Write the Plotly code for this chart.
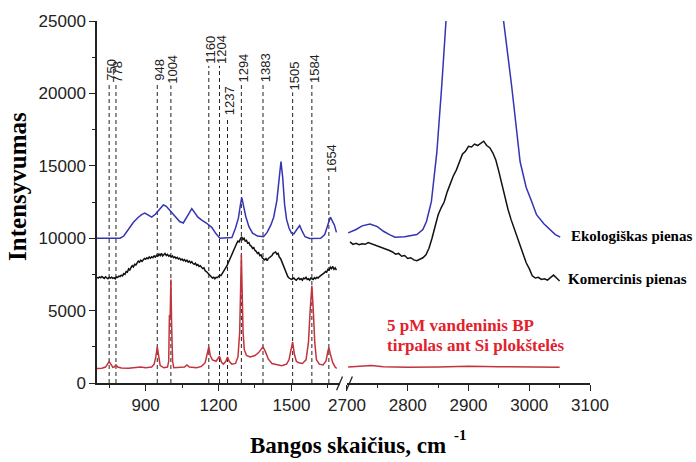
import plotly.graph_objects as go

# ---------------- data ----------------
# Ekologiškas pienas (blue), low-wavenumber part
eco_x_left = [700, 720, 760, 795, 810, 830, 850, 870, 885, 897, 910, 925, 940, 955, 973, 985, 1000, 1021,
              1040, 1055, 1065, 1078, 1090, 1100, 1115, 1131, 1150, 1172, 1190, 1206, 1230, 1255, 1270, 1282,
              1290, 1296, 1302, 1312, 1325, 1340, 1360, 1385, 1400, 1415, 1427, 1440, 1450, 1457, 1464, 1472,
              1480, 1490, 1500, 1510, 1522, 1534, 1545, 1556, 1575, 1600, 1620, 1637, 1650, 1660, 1668, 1677, 1685]
eco_y_left = [10000, 10000, 9980, 10000, 10150, 10600, 11100, 11450, 11650, 11730, 11600, 11450, 11650, 11950,
              12300, 12200, 11900, 11500, 11150, 11050, 11300, 11700, 12050, 11800, 11450, 11250, 11050, 10750,
              10300, 10000, 10000, 10050, 10700, 11400, 12300, 12800, 12300, 11500, 10800, 10350, 10150, 10100,
              10400, 10900, 11450, 12600, 14200, 15300, 14200, 12300, 11300, 10700, 10350, 10300, 10600, 10870,
              10450, 10100, 9980, 9980, 10000, 10250, 10900, 11450, 11200, 10900, 10400]

# Ekologiškas pienas, C-H stretching region
eco_x_right = [2702, 2715, 2725, 2738, 2750, 2760, 2770, 2779, 2795, 2815, 2825, 2831, 2839, 2848, 2856, 2863,
               2880, 2910, 2940, 2958, 2971, 2985, 2995, 3004, 3012, 3024, 3034, 3043, 3051]
eco_y_right = [10370, 10600, 10850, 10980, 10800, 10480, 10250, 10070, 10100, 10250, 10600, 11170, 12540, 15960,
               20530, 25000, 31000, 35000, 31000, 25000, 20530, 15280, 13500, 12540, 11620, 11000, 10590, 10250, 10070]

# Komercinis pienas (black)
kom_x_left = list(range(700, 1690, 5))
kom_y_left = [7300, 7250, 7320, 7260, 7350, 7280, 7220, 7330, 7270, 7200, 7300, 7240, 7310, 7230, 7280, 7200,
              7320, 7290, 7380, 7350, 7450, 7400, 7560, 7500, 7700, 7650, 7880, 7800, 7980, 8100, 8020, 8200,
              8150, 8300, 8420, 8350, 8480, 8400, 8520, 8600, 8550, 8650, 8580, 8700, 8620, 8720, 8650, 8780,
              8700, 8820, 8760, 8900, 8800, 8950, 8780, 8870, 8950, 8800, 8880, 8760, 8820, 8700, 8780, 8650,
              8720, 8600, 8680, 8560, 8620, 8500, 8560, 8450, 8520, 8400, 8480, 8350, 8420, 8300, 8380, 8250,
              8200, 8280, 8120, 8180, 8050, 8100, 7950, 7900, 7950, 7750, 7700, 7600, 7560, 7400, 7350, 7250,
              7300, 7200, 7300, 7280, 7350, 7450, 7420, 7550, 7650, 7800, 7900, 8100, 8300, 8500, 8700, 8900,
              9150, 9350, 9550, 9650, 9800, 9750, 9950, 10100, 9900, 10000, 9800, 9850, 9650, 9700, 9500, 9450,
              9300, 9350, 9150, 9100, 8950, 9000, 8800, 8850, 8650, 8550, 8500, 8600, 8450, 8600, 8650, 8750,
              8800, 8950, 9000, 9050, 8900, 8950, 8700, 8600, 8400, 8200, 7900, 7700, 7500, 7350, 7250, 7200,
              7150, 7200, 7250, 7150, 7100, 7200, 7250, 7150, 7200, 7100, 7250, 7200, 7300, 7150, 7200, 7100,
              7250, 7200, 7150, 7280, 7200, 7300, 7250, 7350, 7400, 7450, 7550, 7600, 7700, 7650, 7850, 7800,
              8000, 7900, 8050, 7850, 7950, 7800]
kom_x_right = list(range(2705, 3055, 5))
kom_y_right = [9750, 9570, 9650, 9550, 9620, 9580, 9700, 9620, 9550, 9500, 9420, 9350, 9250, 9150, 9050, 8900,
               8950, 8750, 8800, 8600, 8650, 8500, 8450, 8550, 8650, 8850, 9300, 10000, 10800, 11600, 12100,
               12500, 13200, 13800, 14300, 14700, 15300, 15800, 16000, 16350, 16300, 16500, 16400, 16550, 16700,
               16400, 16250, 15900, 15400, 14600, 13700, 12900, 12000, 11300, 10700, 10100, 9400, 8800, 8300,
               7900, 7400, 7250, 7300, 7150, 7200, 7100, 7250, 7450, 7250, 7050]

# 5 pM BP solution on Si (red)
bp_x_left = [700, 720, 735, 743, 750, 757, 765, 772, 778, 785, 800, 830, 860, 880, 900, 925, 935, 942, 948, 953,
             960, 975, 990, 995, 998, 1001, 1004, 1007, 1011, 1016, 1040, 1060, 1070, 1080, 1110, 1130, 1145,
             1153, 1160, 1166, 1175, 1190, 1198, 1204, 1212, 1220, 1230, 1237, 1244, 1255, 1270, 1280, 1287,
             1291, 1294, 1297, 1301, 1306, 1315, 1330, 1350, 1365, 1375, 1383, 1392, 1405, 1420, 1440, 1460,
             1480, 1490, 1497, 1505, 1512, 1520, 1530, 1545, 1560, 1570, 1577, 1584, 1590, 1596, 1603, 1615,
             1630, 1642, 1650, 1654, 1660, 1670, 1680, 1686]
bp_y_left = [1000, 1020, 1100, 1300, 1480, 1300, 1080, 1120, 1250, 1100, 1030, 1020, 1050, 1100, 1050, 1100,
             1300, 1800, 2500, 1800, 1200, 1050, 1100, 1500, 4700, 4500, 7150, 4000, 1500, 1050, 1050, 1100,
             1250, 1100, 1050, 1150, 1400, 1900, 2500, 1900, 1600, 1500, 1700, 1850, 1450, 1300, 1500, 1800,
             1500, 1300, 1350, 1800, 3500, 6500, 8880, 6500, 3500, 2300, 1900, 1800, 1900, 2100, 2350, 2500,
             2200, 1650, 1350, 1250, 1200, 1300, 1600, 2200, 2830, 2000, 1500, 1400, 1350, 1600, 2800, 5000,
             6710, 5000, 2800, 1600, 1300, 1250, 1500, 2200, 2440, 2000, 1400, 1100, 1000]
bp_x_right = [2702, 2720, 2740, 2760, 2800, 2850, 2880, 2900, 2950, 3000, 3050]
bp_y_right = [1100, 1150, 1200, 1130, 1080, 1100, 1120, 1150, 1130, 1100, 1080]

# peak markers: label value and height of the dashed line top
peak_labels = [750, 778, 948, 1004, 1160, 1204, 1237, 1294, 1383, 1505, 1584, 1654]
peak_tops = [20750, 20600, 20750, 20550, 21900, 21900, 18360, 20600, 20600, 20070, 20600, 14385]

y_ticks = [0, 5000, 10000, 15000, 20000, 25000]
x_ticks_left = [900, 1200, 1500]
x_ticks_right = [2700, 2800, 2900, 3000, 3100]

# ---------------- figure ----------------
BLUE = "#3434b4"
BLACK = "#111111"
RED = "#c2333c"

fig = go.Figure()
for xs, ys, col, ax in [
    (eco_x_left, eco_y_left, BLUE, "x"), (eco_x_right, eco_y_right, BLUE, "x2"),
    (kom_x_left, kom_y_left, BLACK, "x"), (kom_x_right, kom_y_right, BLACK, "x2"),
    (bp_x_left, bp_y_left, RED, "x"), (bp_x_right, bp_y_right, RED, "x2"),
]:
    fig.add_trace(go.Scatter(x=xs, y=ys, mode="lines", xaxis=ax, yaxis="y",
                             line=dict(color=col, width=1.5), hoverinfo="skip"))

shapes = []
annotations = []
for lab, top in zip(peak_labels, peak_tops):
    shapes.append(dict(type="line", xref="x", yref="y", x0=lab, x1=lab, y0=0, y1=top,
                       line=dict(color="#222222", width=1, dash="4px,3px"), layer="below"))
    annotations.append(dict(x=lab, y=top, xref="x", yref="y", text=str(lab), textangle=-90,
                            showarrow=False, xanchor="center", yanchor="bottom", xshift=2,
                            font=dict(family="Liberation Sans, Arial", size=13, color="#222222")))

# axis break marks
for x0 in [0.486, 0.506]:
    shapes.append(dict(type="line", xref="paper", yref="paper", x0=x0, x1=x0 + 0.012,
                       y0=-0.02, y1=0.018, line=dict(color="#222222", width=1.3)))

serif = "Liberation Serif, Times New Roman, serif"
annotations += [
    dict(x=0.509, y=-0.173, xref="paper", yref="paper", text="<b>Bangos skaičius, cm</b>", showarrow=False,
         xanchor="center", yanchor="middle", font=dict(family=serif, size=23, color="black")),
    dict(x=0.737, y=-0.145, xref="paper", yref="paper", text="<b>-1</b>", showarrow=False,
         xanchor="center", yanchor="middle", font=dict(family=serif, size=15, color="black")),
    dict(x=-0.160, y=0.542, xref="paper", yref="paper", text="<b>Intensyvumas</b>", showarrow=False,
         textangle=-90, xanchor="center", yanchor="middle", font=dict(family=serif, size=25, color="black")),
    dict(x=0.958, y=0.405, xref="paper", yref="paper", text="<b>Ekologiškas pienas</b>", showarrow=False,
         xanchor="left", yanchor="middle", font=dict(family=serif, size=15, color="black")),
    dict(x=0.952, y=0.287, xref="paper", yref="paper", text="<b>Komercinis pienas</b>", showarrow=False,
         xanchor="left", yanchor="middle", font=dict(family=serif, size=15, color="black")),
    dict(x=0.584, y=0.159, xref="paper", yref="paper", text="<b>5 pM vandeninis BP</b>", showarrow=False,
         xanchor="left", yanchor="middle", font=dict(family=serif, size=17, color="#e3202b")),
    dict(x=0.584, y=0.104, xref="paper", yref="paper", text="<b>tirpalas ant Si plokštelės</b>", showarrow=False,
         xanchor="left", yanchor="middle", font=dict(family=serif, size=17, color="#e3202b")),
]

tickfont = dict(family="Liberation Sans, Arial", size=17, color="#222222")
common_x = dict(showline=True, linecolor="#222222", linewidth=1.5, ticks="outside", ticklen=6, tickwidth=1.3,
                tickcolor="#222222", showgrid=False, zeroline=False, tickfont=tickfont, tickformat="d")

fig.update_layout(
    width=696, height=462,
    margin=dict(l=97, r=106, t=18, b=79),
    paper_bgcolor="white", plot_bgcolor="white",
    showlegend=False,
    xaxis=dict(domain=[0, 0.493], range=[700, 1700], tickvals=x_ticks_left, anchor="y",
               minor=dict(tickvals=[750, 1050, 1350, 1650], ticks="outside", ticklen=3, tickcolor="#222222"),
               **common_x),
    xaxis2=dict(domain=[0.507, 1], range=[2700, 3100], tickvals=x_ticks_right, anchor="y",
                minor=dict(tickvals=[2750, 2850, 2950, 3050], ticks="outside", ticklen=3, tickcolor="#222222"),
                **common_x),
    yaxis=dict(range=[0, 25000], tickvals=y_ticks, tickformat="d", showline=True, linecolor="#222222",
               linewidth=1.5, ticks="outside", ticklen=6, tickwidth=1.3, tickcolor="#222222", showgrid=False,
               zeroline=False, tickfont=tickfont,
               minor=dict(tickvals=[2500, 7500, 12500, 17500, 22500], ticks="outside", ticklen=3,
                          tickcolor="#222222")),
    shapes=shapes,
    annotations=annotations,
)

fig.write_html("out.html")
